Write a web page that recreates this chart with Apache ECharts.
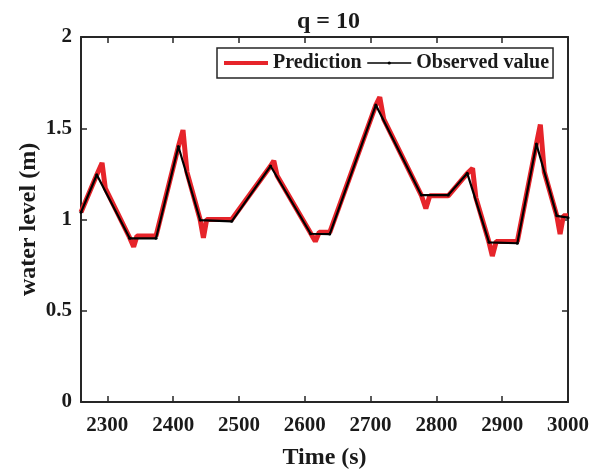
<!DOCTYPE html>
<html>
<head>
<meta charset="utf-8">
<script src="https://cdn.jsdelivr.net/npm/echarts@6/dist/echarts.min.js"></script>
<style>html,body{margin:0;padding:0;background:#fff}#c{width:592px;height:472px}</style>
</head>
<body>
<div id="c"></div>
<script>
// Observed value (black)
const obsTime = [2260,2284,2334,2374,2408,2441,2489,2548,2609,2638,2708,2777,2818,2847,2880,2923,2952,2983,3000];
const obsValue = [1.04,1.245,0.897,0.897,1.40,0.997,0.99,1.293,0.922,0.92,1.627,1.134,1.134,1.253,0.875,0.87,1.414,1.02,1.01];
// Prediction (red)
const predTime = [2260,2284,2292,2297,2334,2340,2345,2374,2408,2415,2421,2441,2446,2451,2489,2548,2553,2558,2609,2616,2622,2638,2708,2714,2720,2777,2784,2790,2818,2847,2855,2860,2880,2885,2891,2923,2952,2958,2964,2983,2988,2993,3000];
const predValue = [1.04,1.245,1.31,1.17,0.90,0.85,0.91,0.91,1.40,1.49,1.26,1.00,0.90,1.00,1.00,1.293,1.322,1.24,0.925,0.88,0.93,0.93,1.627,1.67,1.55,1.134,1.06,1.13,1.13,1.253,1.28,1.12,0.875,0.80,0.88,0.88,1.414,1.52,1.26,1.02,0.92,1.02,1.02];
const xTicks = [2300,2400,2500,2600,2700,2800,2900,3000];
const yTicks = [0,0.5,1,1.5,2];

const font = 'Liberation Serif';
const axisColor = '#262626';
const txt = '#1a1a1a';
const red = '#e6242a';
const zip = (a,b) => a.map((t,i)=>[t,b[i]]);

const chart = echarts.init(document.getElementById('c'), null, {renderer:'canvas'});
const baseX = {
  type:'value', min:2260, max:3000,
  axisLine:{show:true, onZero:false, lineStyle:{color:axisColor, width:2}},
  axisTick:{show:true, inside:true, length:6, customValues:xTicks, lineStyle:{color:axisColor, width:1.5}},
  splitLine:{show:false}
};
const baseY = {
  type:'value', min:0, max:2, interval:0.5,
  axisLine:{show:true, onZero:false, lineStyle:{color:axisColor, width:2}},
  axisTick:{show:true, inside:true, length:6, customValues:yTicks, lineStyle:{color:axisColor, width:1.5}},
  splitLine:{show:false}
};
chart.setOption({
  animation:false,
  backgroundColor:'#fff',
  title:{text:'q = 10', left:292, top:5, textStyle:{fontFamily:font, fontWeight:'bold', fontSize:24, color:txt}},
  grid:{left:81, right:24, top:37, bottom:70, outerBoundsMode:'none', containLabel:false},
  legend:{
    left:217, top:48, padding:[5,4,5,5], itemGap:5, itemWidth:44, itemHeight:4,
    borderColor:axisColor, borderWidth:1.5, backgroundColor:'#fff',
    textStyle:{fontFamily:font, fontWeight:'bold', fontSize:20, color:txt},
    data:[
      {name:'Prediction', lineStyle:{color:red, width:4}},
      {name:'Observed value', lineStyle:{color:'#000', width:1.5}}
    ]
  },
  xAxis:[
    Object.assign({}, baseX, {position:'bottom', name:'Time (s)', nameLocation:'middle', nameGap:44, nameMoveOverlap:false,
      nameTextStyle:{fontFamily:font, fontWeight:'bold', fontSize:24, color:txt},
      axisLabel:{show:true, margin:13, customValues:xTicks, formatter:v=>String(v), fontFamily:font, fontWeight:'bold', fontSize:21, color:txt}}),
    Object.assign({}, baseX, {position:'top', axisLabel:{show:false}})
  ],
  yAxis:[
    Object.assign({}, baseY, {position:'left', name:'water level (m)', nameLocation:'middle', nameGap:40, nameMoveOverlap:false,
      nameTextStyle:{fontFamily:font, fontWeight:'bold', fontSize:24, color:txt},
      axisLabel:{show:true, margin:9, customValues:yTicks, fontFamily:font, fontWeight:'bold', fontSize:21, color:txt,
        formatter:v=>String(v)}}),
    Object.assign({}, baseY, {position:'right', axisLabel:{show:false}})
  ],
  series:[
    {name:'Prediction', type:'line', data:zip(predTime,predValue), symbol:'none', color:red,
      lineStyle:{color:red, width:5}, z:2},
    {name:'Observed value', type:'line', data:zip(obsTime,obsValue), symbol:'circle', symbolSize:3, showSymbol:true,
      color:'#000', itemStyle:{color:'#000'}, lineStyle:{color:'#000', width:2.2}, z:3}
  ]
});
</script>
</body>
</html>
